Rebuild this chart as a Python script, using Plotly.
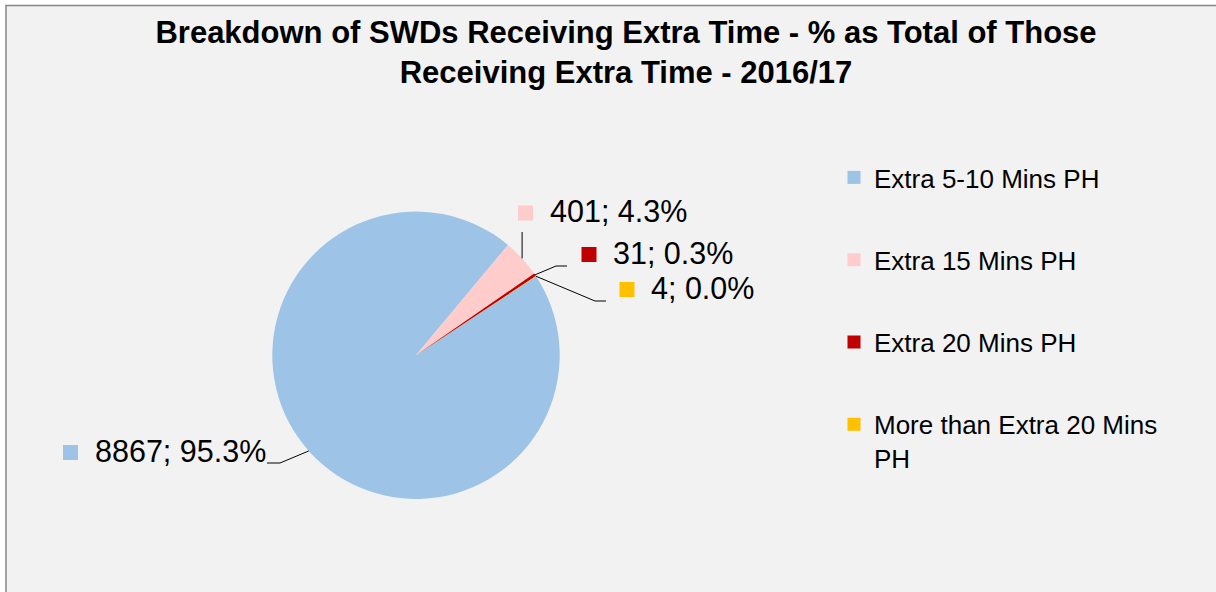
import math
import plotly.graph_objects as go

# ---------------- data ----------------
categories = ["Extra 5-10 Mins PH", "Extra 15 Mins PH", "Extra 20 Mins PH", "More than Extra 20 Mins PH"]
legend_names = ["Extra 5-10 Mins PH", "Extra 15 Mins PH", "Extra 20 Mins PH", "More than Extra 20 Mins<br>PH"]
counts = [8867, 401, 31, 4]
colors = ["#9DC3E6", "#FFCCCC", "#C00000", "#FFC000"]
title_text = "Breakdown of SWDs Receiving Extra Time - % as Total of Those<br>Receiving Extra Time - 2016/17"

# ---------------- layout (pixels) ----------------
W, H = 1216, 592
CX, CY, R = 416.0, 355.3, 143.7       # pie centre / radius
ROT = 56.7                              # first slice angle (deg, clockwise from 12 o'clock)
FONT = "Liberation Sans, Arial, sans-serif"
label_sq = [(70.5, 452.5), (525.5, 213.0), (589.0, 254.5), (627.0, 289.5)]
leader_pts = [[(280, 463), (267, 463)], [(None, 232)], [(556, 266), (567, 266)], [(595, 301), (606, 301)]]
SQ = 15


def px(x):
    return x / W


def py(y):
    return 1 - y / H


total = sum(counts)
pct = [c / total * 100 for c in counts]
label_text = [f"{c}; {p:.1f}%" for c, p in zip(counts, pct)]

# mid-angle edge points of each slice
edges = []
start = ROT
for c in counts:
    span = c / total * 360
    mid = math.radians(start + span / 2)
    edges.append((CX + R * math.sin(mid), CY - R * math.cos(mid)))
    start += span

fig = go.Figure()
fig.add_trace(go.Pie(
    labels=categories, values=counts, sort=False, direction="clockwise", rotation=ROT,
    marker=dict(colors=colors, line=dict(width=0)), textinfo="none", showlegend=False,
    domain=dict(x=[px(CX - R), px(CX + R)], y=[py(CY + R), py(CY - R)]),
))
for name, col in zip(legend_names, colors):
    fig.add_trace(go.Scatter(x=[None], y=[None], mode="markers", name=name, legendgroup=name,
                             marker=dict(symbol="square", size=13, color=col)))

shapes = [dict(type="rect", xref="paper", yref="paper", layer="below",
               x0=px(6), x1=px(1240), y0=py(620), y1=py(5.5),
               fillcolor="#F2F2F2", line=dict(color="#868686", width=1.5))]
annotations = []
for (ex, ey), pts, (sx, sy), col, txt in zip(edges, leader_pts, label_sq, colors, label_text):
    path = f"M {px(ex)} {py(ey)}"
    for (x, y) in pts:
        x = ex if x is None else x
        path += f" L {px(x)} {py(y)}"
    shapes.append(dict(type="path", xref="paper", yref="paper", path=path,
                       line=dict(color="#000000", width=1)))
    shapes.append(dict(type="rect", xref="paper", yref="paper",
                       x0=px(sx - SQ / 2), x1=px(sx + SQ / 2), y0=py(sy + SQ / 2), y1=py(sy - SQ / 2),
                       fillcolor=col, line=dict(width=0)))
    annotations.append(dict(xref="paper", yref="paper", x=px(sx + 22), y=py(sy - 2), text=txt,
                            xanchor="left", yanchor="middle", showarrow=False,
                            font=dict(family=FONT, size=30.5, color="#000000")))

fig.update_layout(
    width=W, height=H, margin=dict(l=0, r=0, t=0, b=0),
    paper_bgcolor="#FFFFFF", plot_bgcolor="rgba(0,0,0,0)",
    title=dict(text=f"<b>{title_text}</b>", x=px(626), xanchor="center", xref="paper",
               y=py(43), yanchor="top", yref="paper",
               font=dict(family=FONT, size=31, color="#000000")),
    xaxis=dict(visible=False), yaxis=dict(visible=False),
    legend=dict(x=px(834), y=py(154), xanchor="left", yanchor="top", traceorder="grouped",
                tracegroupgap=45.5, valign="top", bgcolor="rgba(0,0,0,0)",
                font=dict(family=FONT, size=26, color="#000000")),
    shapes=shapes, annotations=annotations, showlegend=True,
)
fig.write_html("out.html", config={"displayModeBar": False},
               post_script="document.body.style.margin='0';")
